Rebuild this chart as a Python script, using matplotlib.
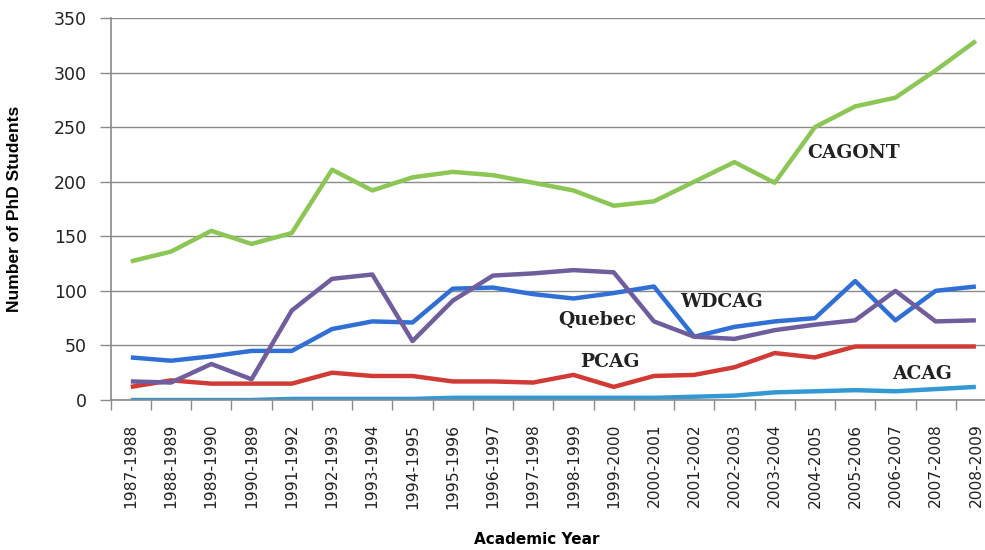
import matplotlib
matplotlib.use("Agg")
import matplotlib.pyplot as plt
import numpy as np

# academic years on the x axis
years = ["1987-1988", "1988-1989", "1989-1990", "1990-1989", "1991-1992",
         "1992-1993", "1993-1994", "1994-1995", "1995-1996", "1996-1997",
         "1997-1998", "1998-1999", "1999-2000", "2000-2001", "2001-2002",
         "2002-2003", "2003-2004", "2004-2005", "2005-2006", "2006-2007",
         "2007-2008", "2008-2009"]

# number of PhD students per association
cagont = [127, 136, 155, 143, 153, 211, 192, 204, 209, 206, 199,
          192, 178, 182, 200, 218, 199, 250, 269, 277, 302, 329]
quebec = [17, 16, 33, 19, 82, 111, 115, 54, 91, 114, 116,
          119, 117, 72, 58, 56, 64, 69, 73, 100, 72, 73]
wdcag = [39, 36, 40, 45, 45, 65, 72, 71, 102, 103, 97,
         93, 98, 104, 58, 67, 72, 75, 109, 73, 100, 104]
pcag = [12, 18, 15, 15, 15, 25, 22, 22, 17, 17, 16,
        23, 12, 22, 23, 30, 43, 39, 49, 49, 49, 49]
acag = [0, 0, 0, 0, 1, 1, 1, 1, 2, 2, 2,
        2, 2, 2, 3, 4, 7, 8, 9, 8, 10, 12]

x = np.arange(len(years))

fig = plt.figure(figsize=(9.85, 5.5), dpi=100)
# the plot area runs a bit past the right edge, as in the original crop
ax = fig.add_axes([110.7 / 985, 1 - 400 / 550, 885.3 / 985, 382 / 550])

lw = 3.2
ax.plot(x, acag, color="#3399d4", lw=lw, solid_capstyle="butt")
ax.plot(x, pcag, color="#d13a35", lw=lw, solid_capstyle="butt")
ax.plot(x, wdcag, color="#2f6fd6", lw=lw, solid_capstyle="butt")
ax.plot(x, quebec, color="#6f5d9e", lw=lw, solid_capstyle="butt")
ax.plot(x, cagont, color="#8cc654", lw=lw, solid_capstyle="butt")

ax.set_xlim(-0.5, len(years) - 0.5)
ax.set_ylim(0, 350)
ax.set_yticks(np.arange(0, 351, 50))
ax.yaxis.grid(True, color="#8a8a8a", lw=1.0)
ax.set_axisbelow(True)

ax.set_xticks(x)
ax.set_xticklabels(years, rotation=90, fontsize=11.2, color="#222222")
ax.set_xticks(np.arange(-0.5, len(years), 1), minor=True)
ax.tick_params(axis="x", which="major", length=0, pad=17)
ax.tick_params(axis="x", which="minor", length=7, color="#8a8a8a", width=1)
ax.tick_params(axis="y", length=8, color="#8a8a8a", width=1, labelsize=12.5,
               labelcolor="#222222", pad=9)

for s in ["top", "right"]:
    ax.spines[s].set_visible(False)
for s in ["left", "bottom"]:
    ax.spines[s].set_color("#8a8a8a")
    ax.spines[s].set_linewidth(1.2)

ax.set_ylabel("Number of PhD Students", fontsize=12.5, fontweight="bold",
              family="Liberation Sans", labelpad=10)
ax.yaxis.set_label_coords(-0.10, 0.5)
fig.text(537 / 985, 1 - 540 / 550, "Academic Year", fontsize=11,
         fontweight="bold", ha="center", va="center")

lab = dict(fontsize=13.5, fontweight="bold", family="DejaVu Serif",
           color="#222222", ha="center", va="center")
ax.text(17.95, 226, "CAGONT", **lab)
ax.text(14.69, 90, "WDCAG", **lab)
ax.text(11.59, 73, "Quebec", **lab)
ax.text(11.91, 35, "PCAG", **lab)
ax.text(19.66, 24, "ACAG", **lab)

fig.savefig("out.png", dpi=100)
